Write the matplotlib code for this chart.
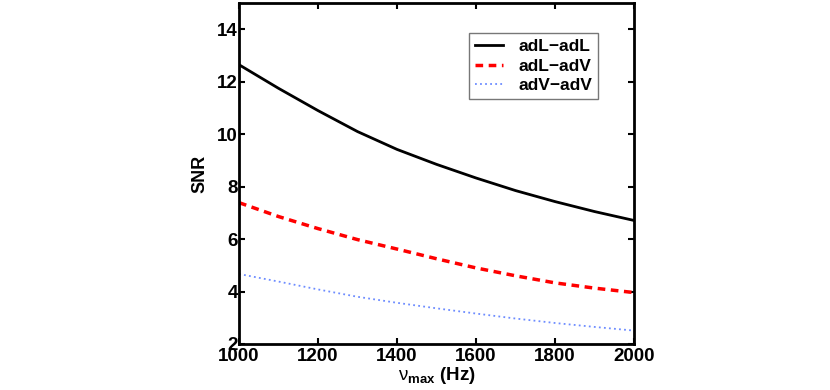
import matplotlib
matplotlib.use("Agg")
import matplotlib.pyplot as plt

plt.rcParams['font.family'] = ['Liberation Sans', 'DejaVu Sans']
plt.rcParams['mathtext.fontset'] = 'custom'
plt.rcParams['mathtext.rm'] = 'Liberation Sans'
plt.rcParams['mathtext.it'] = 'Liberation Sans:italic'
plt.rcParams['mathtext.bf'] = 'Liberation Sans:bold'

nu_max = [1000, 1100, 1200, 1300, 1400, 1500, 1600, 1700, 1800, 1900, 2000]
snr_adL_adL = [12.65, 11.75, 10.90, 10.10, 9.42, 8.85, 8.33, 7.85, 7.43, 7.05, 6.71]
snr_adL_adV = [7.39, 6.86, 6.40, 5.98, 5.62, 5.25, 4.90, 4.60, 4.33, 4.13, 3.96]
snr_adV_adV = [4.67, 4.38, 4.08, 3.80, 3.57, 3.36, 3.16, 2.97, 2.80, 2.65, 2.51]
labels = ['adL\u2212adL', 'adL\u2212adV', 'adV\u2212adV']
xticks = [1000, 1200, 1400, 1600, 1800, 2000]
yticks = [2, 4, 6, 8, 10, 12, 14]

fig = plt.figure(figsize=(8.3, 3.9), dpi=100)
ax = fig.add_axes([0.288, 0.118, 0.476, 0.874])

ax.plot(nu_max, snr_adL_adL, color='black', lw=2.0, ls='-', label=labels[0])
ax.plot(nu_max, snr_adL_adV, color='#ff0000', lw=2.5, ls=(0, (2.2, 1.6)), label=labels[1])
ax.plot(nu_max, snr_adV_adV, color='#6d8cff', lw=1.3, ls=(0, (1, 1.8)), label=labels[2])

ax.set_xlim(1000, 2000)
ax.set_ylim(2, 15)
ax.set_xticks(xticks)
ax.set_yticks(yticks)
ax.tick_params(direction='in', top=True, right=True, length=4, width=1.5,
               labelsize=13.5)
ax.tick_params(axis='x', pad=3)
ax.tick_params(axis='y', pad=1)
for lab in ax.get_xticklabels() + ax.get_yticklabels():
    lab.set_fontweight('bold')
for s in ax.spines.values():
    s.set_linewidth(2.0)

ax.set_ylabel('SNR', fontsize=13, fontweight='bold', labelpad=6)
ax.set_xlabel(r'$\mathrm{\nu}_{\mathbf{max}}\ \mathbf{(Hz)}$', fontsize=13.5, labelpad=0)

leg = ax.legend(loc='upper right', bbox_to_anchor=(0.909, 0.912),
                prop={'weight': 'bold', 'size': 12.5}, frameon=True, fancybox=False,
                edgecolor='#555555', handlelength=1.6, borderpad=0.35,
                labelspacing=0.25, handletextpad=0.9, borderaxespad=0)
leg.get_frame().set_linewidth(1.0)

fig.savefig('out.png', dpi=100)
